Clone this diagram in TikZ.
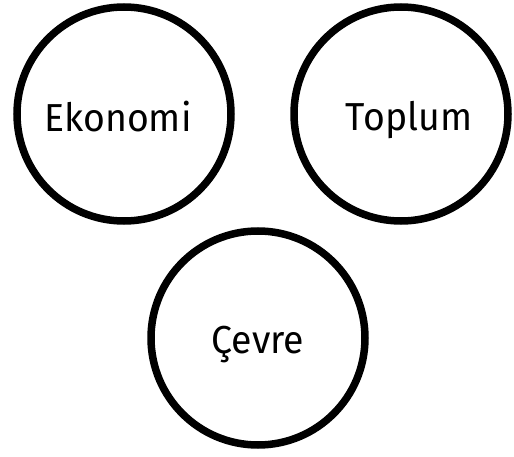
\documentclass[tikz,border=0pt]{standalone}
\usepackage{fontspec}
\setmainfont{Fira Sans}
\begin{document}
\begin{tikzpicture}[x=1pt,y=-1pt,
  topic/.style={circle,draw=black,line width=7.5pt,minimum size=214pt,inner sep=0pt},
  label/.style={font=\fontsize{39}{42}\selectfont,xscale=0.96}]
\useasboundingbox (0,0) rectangle (514,457);
\node[topic] (eko) at (124,114) {};
\node[topic] (top) at (401,114) {};
\node[topic] (cev) at (258,338) {};
\node[label,anchor=base] (ekot) at (118,132) {Ekonomi};
\node[label,anchor=base] (topt) at (409,131) {Toplum};
\node[label,anchor=base] (cevt) at (258,353) {Çevre};
\end{tikzpicture}
\end{document}
